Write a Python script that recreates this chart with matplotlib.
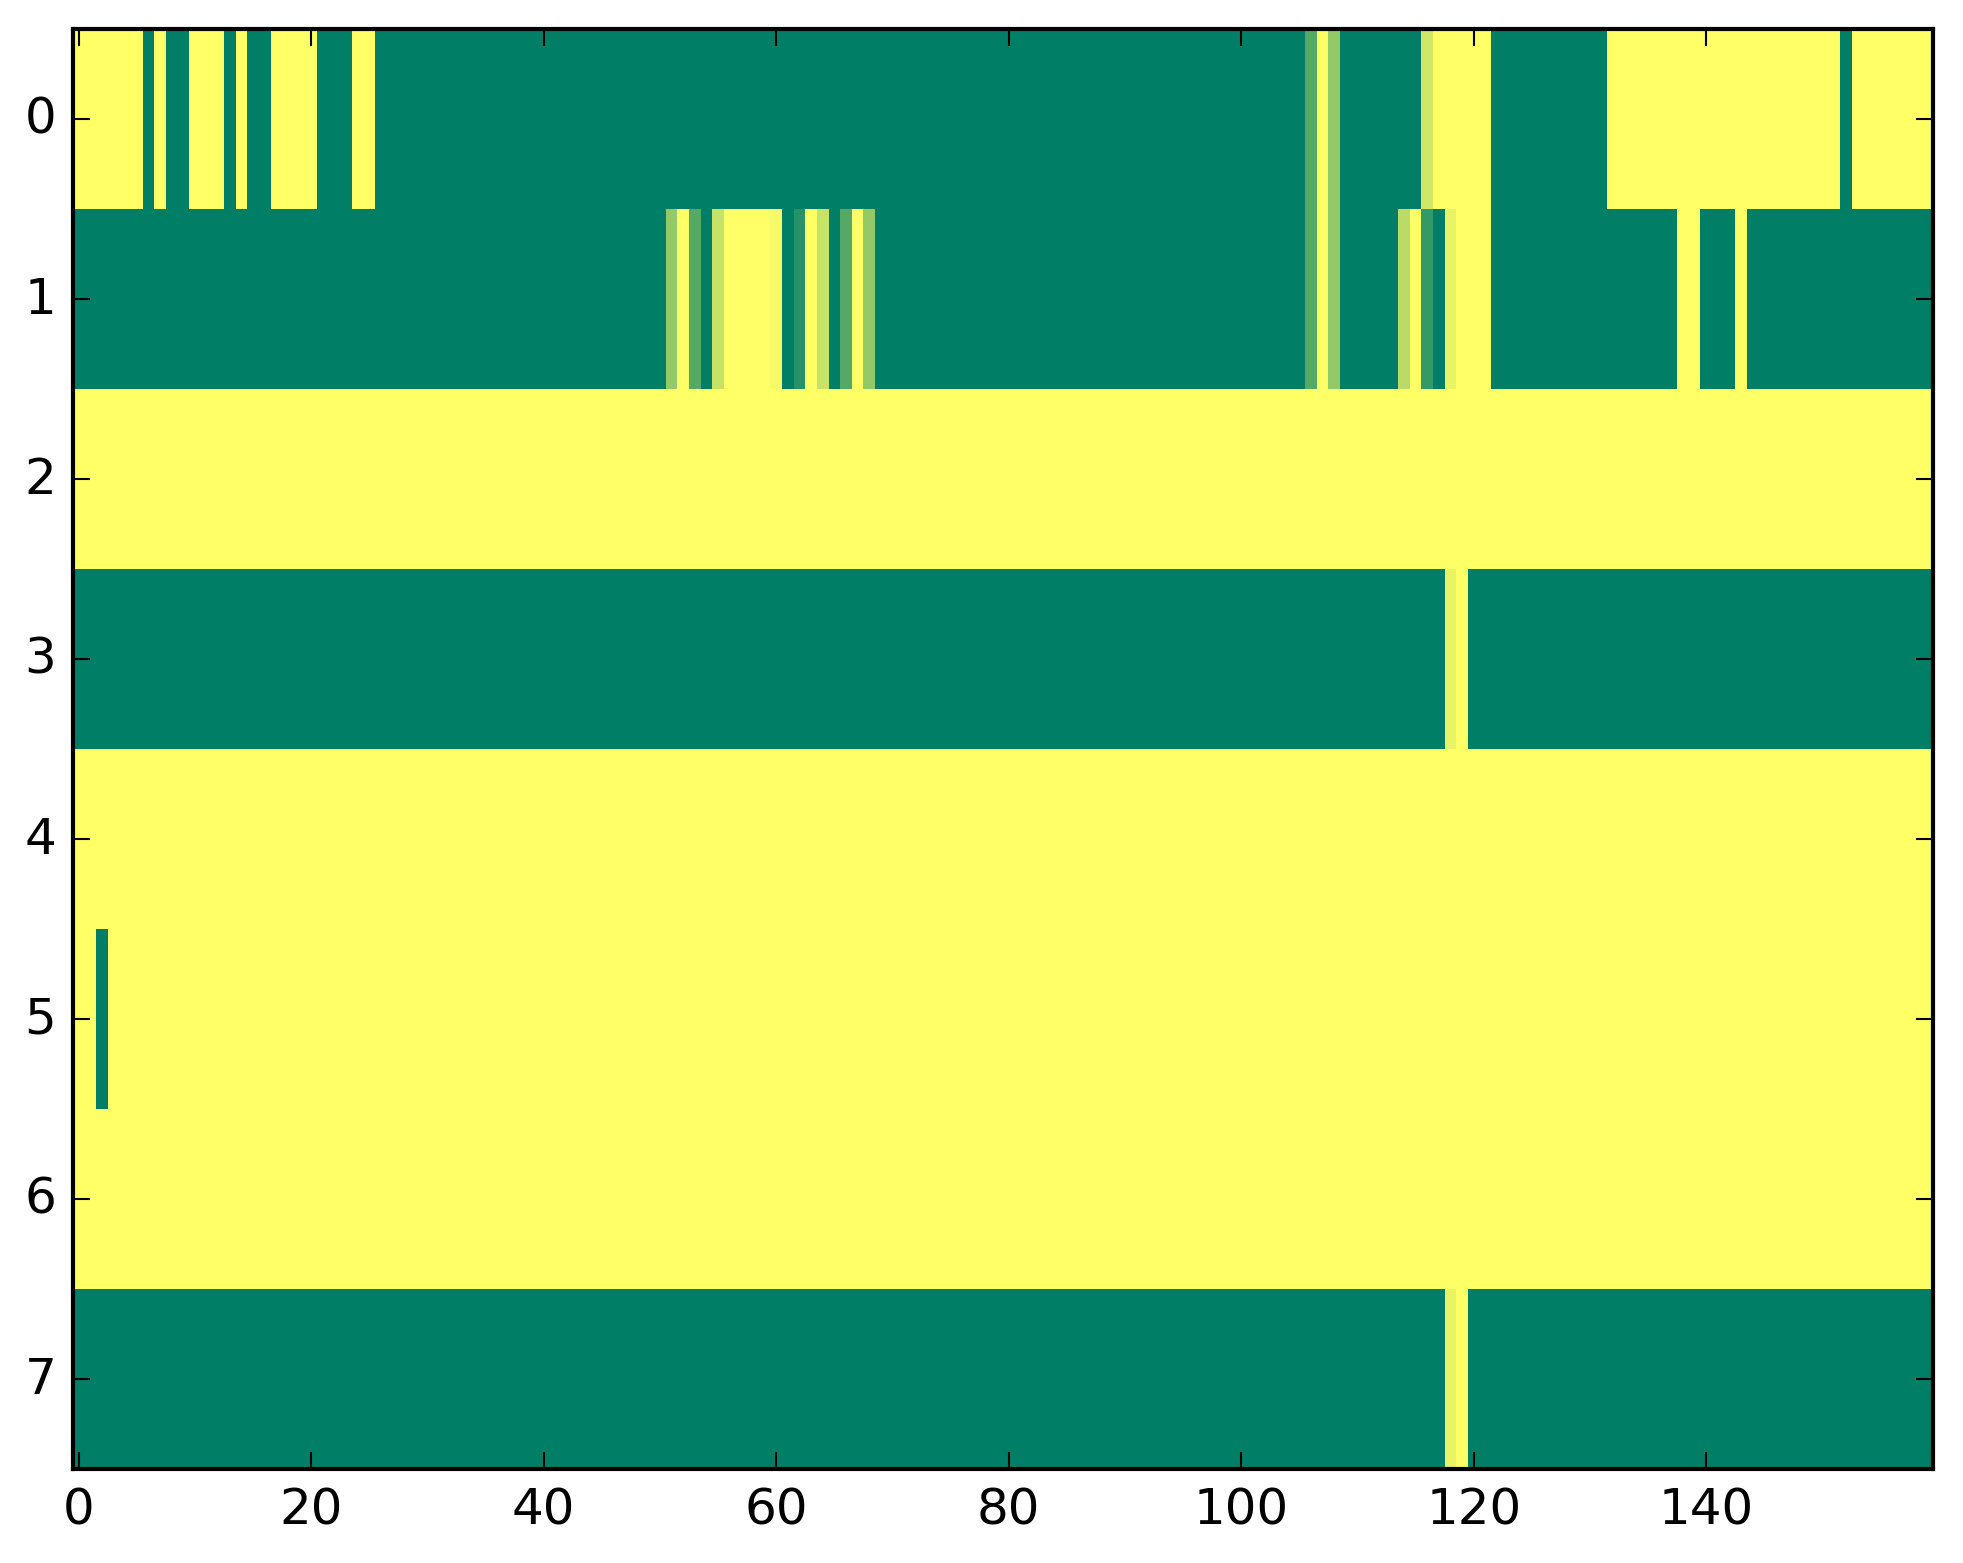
import numpy as np
import matplotlib
matplotlib.use('Agg')
import matplotlib.pyplot as plt

# each row as (value, run length) pairs read left to right, 160 columns
row0 = [(1, 6), (0, 1), (1, 1), (0, 2), (1, 3), (0, 1), (1, 1), (0, 2), (1, 4),
        (0, 3), (1, 2), (0, 80), (0.33, 1), (1, 1), (0.58, 1), (0, 7), (0.82, 1),
        (1, 5), (0, 10), (1, 20), (0, 1), (1, 7)]
row1 = [(0, 51), (0.58, 1), (1, 1), (0.33, 1), (0, 1), (0.78, 1), (1, 4), (0.96, 1),
        (0, 1), (0.15, 1), (1, 1), (0.78, 1), (0, 1), (0.33, 1), (1, 1), (0.58, 1),
        (0, 37), (0.33, 1), (1, 1), (0.58, 1), (0, 5), (0.73, 1), (1, 1), (0.2, 1),
        (0, 1), (0.91, 1), (1, 3), (0, 16), (1, 2), (0, 3), (1, 1), (0, 16)]
row2 = [(1, 160)]
row3 = [(0, 118), (0.91, 1), (1, 1), (0, 40)]
row4 = [(1, 160)]
row5 = [(1, 2), (0, 1), (1, 157)]
row6 = [(1, 160)]
row7 = [(0, 118), (0.91, 1), (1, 1), (0, 40)]

rows = [row0, row1, row2, row3, row4, row5, row6, row7]


def expand(runs):
    vals = []
    for v, n in runs:
        vals += [v] * n
    return vals


data = np.array([expand(r) for r in rows])

plt.style.use('classic')
W, H, dpi = 1963, 1564, 300
fig = plt.figure(figsize=(W / dpi, H / dpi), dpi=dpi, facecolor='white')
ax = fig.add_axes([73 / W, 94 / H, 1860 / W, 1440 / H])

ax.imshow(data, cmap='summer', aspect='auto', interpolation='nearest',
          vmin=0, vmax=1)
ax.set_xticks(np.arange(0, 160, 20))
ax.set_yticks(np.arange(0, 8))
ax.set_xlim(-0.5, 159.5)
ax.set_ylim(7.5, -0.5)

fig.savefig('out.png', dpi=dpi, facecolor='white')
